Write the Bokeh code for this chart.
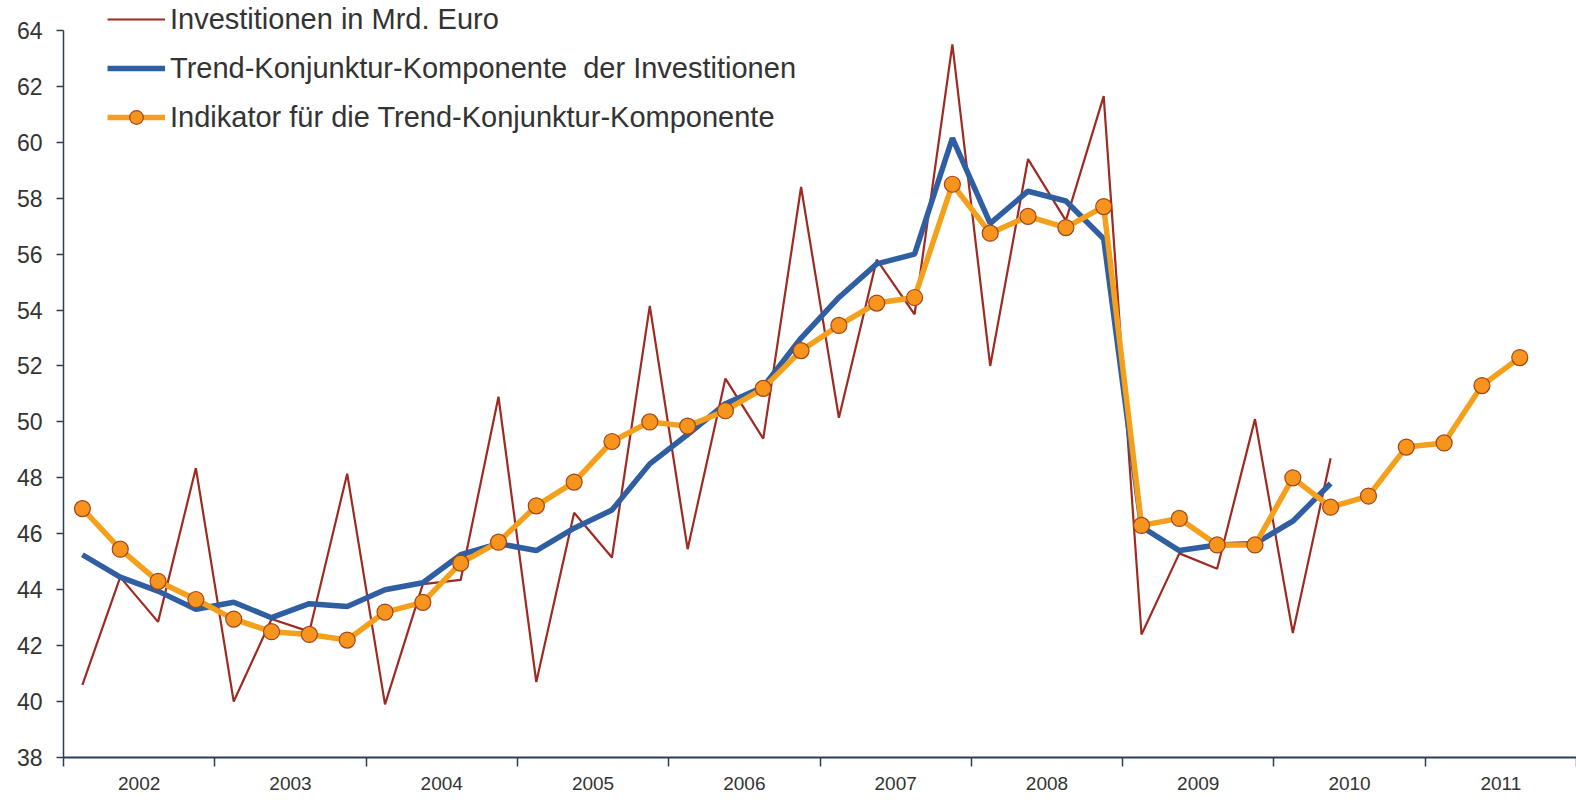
from bokeh.plotting import figure
from bokeh.models import (Range1d, FixedTicker, Legend, LegendItem)
from bokeh.embed import file_html
from bokeh.resources import INLINE

# ---- data (quarters 2002 Q1 .. 2011 Q4) ----
years = [2002, 2003, 2004, 2005, 2006, 2007, 2008, 2009, 2010, 2011]

investitionen = [40.6, 44.45, 42.85, 48.35, 40.0, 42.95, 42.5, 48.15, 39.9, 44.2,
                 44.35, 50.9, 40.7, 46.75, 45.15, 54.15, 45.45, 51.55, 49.4, 58.4,
                 50.15, 55.8, 53.85, 63.5, 52.0, 59.4, 57.2, 61.65, 42.4, 45.3,
                 44.75, 50.1, 42.45, 48.7]

trend = [45.25, 44.45, 43.95, 43.3, 43.55, 43.0, 43.5, 43.4, 44.0, 44.25,
         45.25, 45.65, 45.4, 46.2, 46.85, 48.5, 49.55, 50.65, 51.25, 53.0,
         54.45, 55.65, 56.0, 60.15, 57.1, 58.25, 57.9, 56.55, 46.25, 45.4,
         45.6, 45.65, 46.45, 47.8]

indikator = [46.9, 45.45, 44.3, 43.65, 42.95, 42.5, 42.4, 42.2, 43.2, 43.55,
             44.95, 45.7, 47.0, 47.85, 49.3, 50.0, 49.85, 50.4, 51.2, 52.55,
             53.45, 54.25, 54.45, 58.5, 56.75, 57.35, 56.95, 57.7, 46.3, 46.55,
             45.6, 45.6, 48.0, 46.95, 47.35, 49.1, 49.25, 51.3, 52.3]

y_ticks = list(range(38, 65, 2))

labels = ["Investitionen in Mrd. Euro",
          "Trend-Konjunktur-Komponente  der Investitionen",
          "Indikator für die Trend-Konjunktur-Komponente"]

FONT = "Liberation Sans"
AXIS_COLOR = "#2c3e50"
TEXT_COLOR = "#333333"
RED = "#9e2a22"
BLUE = "#2f5ea3"
ORANGE = "#f5a01a"

def qx(values):
    return [i + 0.5 for i in range(len(values))]

p = figure(width=1576, height=808, output_backend="svg", toolbar_location=None,
           x_range=Range1d(0, 4 * len(years)), y_range=Range1d(38, 65.07),
           min_border_left=63, min_border_right=0, min_border_top=0,
           min_border_bottom=51)
p.outline_line_color = None
p.xgrid.visible = False
p.ygrid.visible = False
p.background_fill_color = "white"
p.border_fill_color = "white"

r_red = p.line(qx(investitionen), investitionen, line_color=RED, line_width=2.2)
r_blue = p.line(qx(trend), trend, line_color=BLUE, line_width=5.5)
r_or = p.line(qx(indikator), indikator, line_color=ORANGE, line_width=5.5)
r_orm = p.scatter(qx(indikator), indikator, size=16, fill_color="#f7941d",
                  line_color="#a0461a", line_width=1.2)

# y axis
ya = p.yaxis[0]
ya.ticker = FixedTicker(ticks=y_ticks)
ya.bounds = (38, 64)
ya.axis_line_color = AXIS_COLOR
ya.axis_line_width = 1.5
ya.major_tick_line_color = AXIS_COLOR
ya.major_tick_line_width = 1.5
ya.major_tick_out = 7
ya.major_tick_in = 0
ya.minor_tick_line_color = None
ya.major_label_standoff = 14
ya.major_label_text_font = FONT
ya.major_label_text_font_size = "23px"
ya.major_label_text_color = TEXT_COLOR

# x axis: ticks at year boundaries, labels at year centres
xa = p.xaxis[0]
mids = [4 * k + 2 for k in range(len(years))]
xa.ticker = FixedTicker(ticks=mids, minor_ticks=[4 * k for k in range(len(years) + 1)])
xa.major_label_overrides = {m: str(y) for m, y in zip(mids, years)}
xa.axis_line_color = AXIS_COLOR
xa.axis_line_width = 2
xa.major_tick_line_color = None
xa.major_tick_out = 0
xa.major_tick_in = 0
xa.minor_tick_line_color = AXIS_COLOR
xa.minor_tick_line_width = 1.5
xa.minor_tick_out = 9
xa.minor_tick_in = 0
xa.major_label_standoff = 10
xa.major_label_text_font = FONT
xa.major_label_text_font_size = "19px"
xa.major_label_text_color = TEXT_COLOR

legend = Legend(items=[LegendItem(label=labels[0], renderers=[r_red]),
                       LegendItem(label=labels[1], renderers=[r_blue]),
                       LegendItem(label=labels[2], renderers=[r_or, r_orm])],
                location=(44, 623), orientation="vertical",
                glyph_width=58, glyph_height=34, label_height=34,
                label_standoff=5, spacing=15, padding=0, margin=0,
                border_line_color=None, background_fill_alpha=0,
                label_text_font=FONT, label_text_font_size="29px",
                label_text_color=TEXT_COLOR)
p.add_layout(legend, "center")

open("out.html", "w").write(file_html(p, INLINE))
